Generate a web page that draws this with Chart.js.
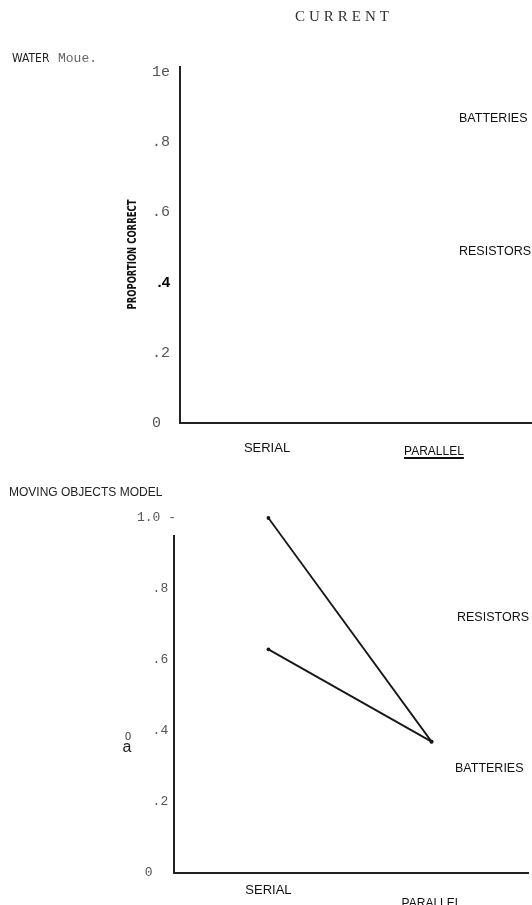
<!DOCTYPE html>
<html><head><meta charset="utf-8">
<script src="https://cdn.jsdelivr.net/npm/chart.js@4"></script>
<style>
html,body{margin:0;padding:0;background:#fff;width:532px;height:905px;overflow:hidden}
canvas{position:absolute;left:0;display:block}
#c1{top:0}
#c2{top:460px}
</style></head><body>
<canvas id="c1" width="532" height="460"></canvas>
<canvas id="c2" width="532" height="445"></canvas>
<script>
// ---- data ----
const categories = ["SERIAL", "PARALLEL"];
const yTickValues = [0, 0.2, 0.4, 0.6, 0.8, 1.0];
const waterTickLabels = ["0", ".2", ".4", ".6", ".8", "1e"];
const movingTickLabels = ["0", ".2", ".4", ".6", ".8", "1.0 -"];
const yAxisTitle = "PROPORTION CORRECT";
const waterBatteries = [];   // lines not legible in the reference
const waterResistors = [];
const movingResistors = [1.0, 0.37];
const movingBatteries = [0.63, 0.37];

// ---- styles ----
const MONO = "'Liberation Mono', 'DejaVu Sans Mono', monospace";
const SANS = "'Liberation Sans', Arial, sans-serif";
const NARROW = "'Liberation Sans Narrow', 'DejaVu Sans Condensed', 'Liberation Sans', sans-serif";
const SERIF = "'Liberation Serif', 'DejaVu Serif', serif";
const INK = '#161616';

function pts(vals) { return vals.map((v, i) => ({ x: i, y: v })); }

function textPlugin(items, extra) {
  return {
    id: 'annot' + Math.random().toString(36).slice(2),
    afterDraw(chart) {
      const ctx = chart.ctx;
      ctx.save();
      items.forEach(it => {
        ctx.font = it.font;
        ctx.fillStyle = it.color || INK;
        ctx.textAlign = it.align || 'left';
        ctx.textBaseline = 'middle';
        ctx.letterSpacing = it.spacing || '0px';
        ctx.fillText(it.text, it.x, it.y);
      });
      ctx.restore();
      if (extra) extra(chart);
    }
  };
}

function lineDs(label, vals) {
  return {
    label, data: pts(vals), borderColor: INK, backgroundColor: INK,
    borderWidth: 1.8, pointRadius: 1.9, pointBackgroundColor: INK,
    pointBorderWidth: 0, tension: 0, clip: false
  };
}

function yTicks(labels, fam, size, pad, boldIndex) {
  return {
    padding: pad,
    autoSkip: false,
    color: ctx => ctx.index === boldIndex ? '#000' : '#555',
    font: ctx => ctx.index === boldIndex
      ? { family: SANS, size: 15, weight: 'bold' }
      : { family: fam, size: size },
    callback: (v, i) => labels[i] + (labels === movingTickLabels
      ? (i === 0 ? '   ' : (i === labels.length - 1 ? '' : ' '))
      : (i === 0 ? ' ' : ''))
  };
}

// ---- chart 1 : WATER model ----
new Chart(document.getElementById('c1'), {
  type: 'line',
  data: { datasets: [lineDs('BATTERIES', waterBatteries), lineDs('RESISTORS', waterResistors)] },
  options: {
    responsive: false, animation: false, devicePixelRatio: 1,
    layout: { padding: { left: 0, right: 0, top: 67, bottom: 0 } },
    plugins: { legend: { display: false }, tooltip: { enabled: false } },
    scales: {
      x: {
        type: 'linear', min: -0.521, max: 1.587,
        grid: { display: false, drawTicks: false },
        border: { display: true, color: '#222', width: 2 },
        afterFit(s) { s.height = 37; },
        afterBuildTicks(s) { s.ticks = categories.map((c, i) => ({ value: i })); },
        ticks: {
          padding: 18, color: '#111', maxRotation: 0, autoSkip: false,
          callback: v => categories[v],
          font: ctx => ctx.index === 0
            ? { family: SANS, size: 13, lineHeight: '14px' }
            : { family: SANS, size: 12, lineHeight: '22px' }
        }
      },
      y: {
        min: 0, max: 1.01425,
        grid: { display: false, drawTicks: false },
        border: { display: true, color: '#222', width: 2 },
        afterFit(s) { s.width = 180; },
        afterBuildTicks(s) { s.ticks = yTickValues.map(v => ({ value: v })); },
        ticks: yTicks(waterTickLabels, MONO, 15, 10, 2)
      }
    }
  },
  plugins: [textPlugin([
    { text: 'CURRENT', x: 344, y: 17, font: "15px " + SERIF, color: '#333', align: 'center', spacing: '4px' },
    { text: 'WATER', x: 12, y: 59, font: "12px " + NARROW, color: '#222' },
    { text: 'Moue.', x: 58, y: 59, font: "13px " + MONO, color: '#666' },
    { text: 'BATTERIES', x: 459, y: 119, font: "12.5px " + SANS, color: '#111' },
    { text: 'RESISTORS', x: 459, y: 252, font: "12.5px " + SANS, color: '#111' }
  ], chart => {
    const ctx = chart.ctx, xs = chart.scales.x, ys = chart.scales.y;
    // underline under PARALLEL
    ctx.save();
    ctx.font = "12px " + SANS;
    const w = ctx.measureText(categories[1]).width;
    const cx = xs.getPixelForValue(1);
    ctx.strokeStyle = '#111'; ctx.lineWidth = 2;
    ctx.beginPath(); ctx.moveTo(cx - w / 2, 458); ctx.lineTo(cx + w / 2, 458); ctx.stroke();
    ctx.restore();
    // condensed rotated y-axis title
    ctx.save();
    ctx.font = "bold 12px " + NARROW;
    const tw = ctx.measureText(yAxisTitle).width;
    ctx.translate(133, ys.getPixelForValue(0.48));
    ctx.rotate(-Math.PI / 2);
    ctx.scale(110 / tw, 1);
    ctx.fillStyle = '#111';
    ctx.textAlign = 'center'; ctx.textBaseline = 'middle';
    ctx.fillText(yAxisTitle, 0, 0);
    ctx.restore();
  })]
});

// ---- chart 2 : MOVING OBJECTS model ----
new Chart(document.getElementById('c2'), {
  type: 'line',
  data: { datasets: [lineDs('RESISTORS', movingResistors), lineDs('BATTERIES', movingBatteries)] },
  options: {
    responsive: false, animation: false, devicePixelRatio: 1,
    layout: { padding: { left: 0, right: 2, top: 58, bottom: 0 } },
    plugins: { legend: { display: false }, tooltip: { enabled: false } },
    scales: {
      x: {
        type: 'linear', min: -0.579, max: 1.5915,
        grid: { display: false, drawTicks: false },
        border: { display: true, color: '#222', width: 2 },
        afterFit(s) { s.height = 32; },
        afterBuildTicks(s) { s.ticks = categories.map((c, i) => ({ value: i })); },
        ticks: {
          padding: 10, color: '#111', maxRotation: 0, autoSkip: false,
          callback: v => categories[v],
          font: ctx => ctx.index === 0
            ? { family: SANS, size: 13, lineHeight: '14px' }
            : { family: SANS, size: 12, lineHeight: '42px' }
        }
      },
      y: {
        min: 0, max: 1.0,
        grid: { display: false, drawTicks: false },
        border: { display: false },
        afterFit(s) { s.width = 174; },
        afterBuildTicks(s) { s.ticks = yTickValues.map(v => ({ value: v })); },
        ticks: yTicks(movingTickLabels, MONO, 13, -2, -1)
      }
    }
  },
  plugins: [textPlugin([
    { text: 'MOVING OBJECTS MODEL', x: 9, y: 33, font: "12px " + SANS, color: '#222' },
    { text: 'RESISTORS', x: 457, y: 158, font: "12.5px " + SANS, color: '#111' },
    { text: 'BATTERIES', x: 455, y: 309, font: "12.5px " + SANS, color: '#111' },
    { text: '0', x: 128, y: 277, font: "11px " + SANS, color: '#333', align: 'center' },
    { text: 'a', x: 127, y: 288, font: "16px " + SANS, color: '#222', align: 'center' }
  ], chart => {
    // left axis line (starts below the 1.0 tick, as in the reference)
    const ctx = chart.ctx, ys = chart.scales.y, a = chart.chartArea;
    ctx.save();
    ctx.strokeStyle = '#222'; ctx.lineWidth = 2;
    ctx.beginPath();
    ctx.moveTo(a.left, ys.getPixelForValue(0.952));
    ctx.lineTo(a.left, a.bottom + 1);
    ctx.stroke();
    ctx.restore();
  })]
});
</script>
</body></html>
